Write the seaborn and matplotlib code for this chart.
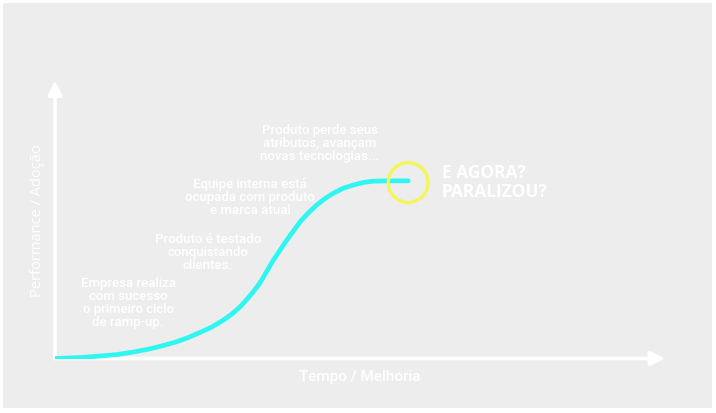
import matplotlib
matplotlib.use("Agg")
import matplotlib.pyplot as plt
import seaborn as sns
from matplotlib.patches import Rectangle

# curve (time / improvement vs performance / adoption, 0-100 scale)
tempo = [0, 4.6, 10.1, 12.8, 15.6, 18.0, 19.9, 21.8, 23.8, 25.7, 27.6, 29.0,
         30.3, 31.5, 32.5, 33.6, 35.8, 38.0, 40.2, 41.5, 42.9, 44.3, 45.6,
         47.2, 48.9, 50.5, 52.2, 54.9, 57.9]
performance = [0, 0.4, 1.4, 2.3, 3.5, 4.8, 6.0, 7.5, 9.4, 11.3, 13.8, 16.0,
               18.5, 21.4, 24.0, 27.2, 35.4, 42.6, 49.2, 52.3, 55.2, 57.6, 59.4,
               61.2, 62.4, 63.3, 63.8, 63.9, 63.9]

etapas = [
    "Empresa realiza\ncom sucesso\no primeiro ciclo\nde ramp-up.",
    "Produto é testado\nconquistando\nclientes.",
    "Equipe interna está\nocupada com produto\ne marca atual",
    "Produto perde seus\natributos, avançam\nnovas tecnologias...",
]
etapa_x = [12.0, 25.1, 32.0, 43.4]
etapa_y = [19.8, 38.1, 57.9, 77.3]

pergunta = "E AGORA?\nPARALIZOU?"
x_label = "Tempo / Melhoria"
y_label = "Performance / Adoção"

sns.set_theme(style="white")
plt.rcParams['font.family'] = ['Roboto', 'DejaVu Sans']

W, H = 716, 413
fig = plt.figure(figsize=(W / 100, H / 100), dpi=100, facecolor="white")
fig.patches.append(Rectangle((3 / W, 5 / H), 709 / W, 405 / H,
                             transform=fig.transFigure, facecolor="#ededed",
                             edgecolor="none", zorder=-5))

ax = fig.add_axes([55 / W, (H - 358.5) / H, 610 / W, 278 / H])
ax.set_facecolor("none")
ax.set_xlim(0, 100)
ax.set_ylim(0, 100)
ax.axis("off")

# axes with arrows
for tip in [(1, 0), (0, 1)]:
    ax.annotate("", xy=tip, xytext=(0, 0), xycoords="axes fraction",
                arrowprops=dict(arrowstyle="-|>,head_length=0.7,head_width=0.35",
                                color="white", lw=2.6, shrinkA=0, shrinkB=0),
                annotation_clip=False)

sns.lineplot(x=tempo, y=performance, ax=ax, color="#2ff6f0", linewidth=3.4,
             estimator=None, sort=False, solid_capstyle="round",
             solid_joinstyle="round", zorder=3)

ax.scatter([tempo[-1]], [performance[-1] - 0.6], s=820, facecolors="none",
           edgecolors="#f4f55a", linewidths=2.4, zorder=4)

for txt, x, y in zip(etapas, etapa_x, etapa_y):
    ax.text(x, y, txt, ha="center", va="center", color="white", fontsize=9.5,
            fontweight="medium", linespacing=1.0)

ax.text(63.4, 63.3, pergunta, ha="left", va="center", color="white",
        fontsize=12.5, fontweight="bold", family=["Open Sans", "DejaVu Sans"],
        linespacing=1.05)

ax.text(50, -6.8, x_label, ha="center", va="center", color="white", fontsize=11,
        fontweight="medium")
ax.text(-2.8, 49.6, y_label, ha="center", va="center", color="white",
        fontsize=10.5, rotation=90, fontweight="medium",
        family=["Open Sans", "DejaVu Sans"])

fig.savefig("out.png", dpi=100, facecolor=fig.get_facecolor())
